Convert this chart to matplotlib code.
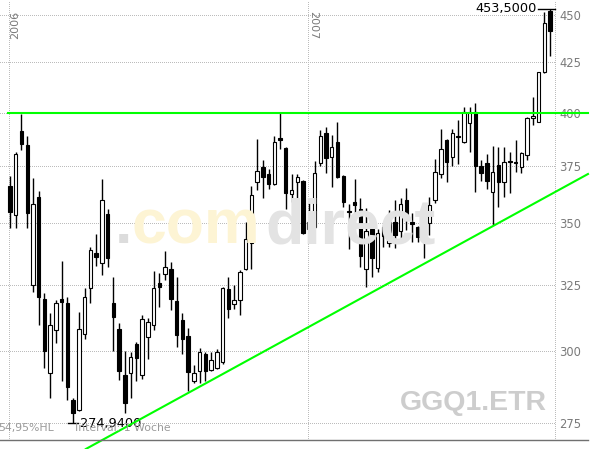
import numpy as np
import matplotlib
matplotlib.use('Agg')
import matplotlib.pyplot as plt
from matplotlib.lines import Line2D
from matplotlib.ticker import NullLocator
import matplotlib.transforms as mtransforms

# weekly candles GGQ1.ETR, Jan 2006 .. Nov 2007
opens = [366.1, 353.5, 391.2, 384.7, 324.9, 361.2, 319.4, 292.1, 307.7, 319.4,
         317.9, 282.8, 279.4, 306.2, 323.7, 337.6, 333.6, 353.9, 317.9, 308.1,
         291.4, 292.1, 302.5, 291.4, 305.1, 309.6, 325.7, 329.2, 331.2, 318.6,
         311.4, 305.5, 289.4, 292.8, 298.9, 293.2, 293.9, 296.1, 323.3, 317.5,
         319.0, 331.2, 341.8, 367.8, 374.6, 371.4, 367.0, 387.9, 383.3, 362.6,
         367.8, 368.3, 347.6, 348.5, 376.4, 390.3, 379.2, 386.1, 370.6, 355.2,
         359.1, 356.0, 331.2, 347.6, 331.6, 348.5, 341.8, 350.5, 346.8, 360.0,
         350.5, 348.5, 344.3, 350.1, 360.0, 371.4, 387.0, 379.2, 388.8, 386.1,
         395.0, 400.3, 375.0, 376.4, 363.4, 375.5, 367.9, 377.3, 376.9, 374.6,
         380.1, 397.5, 395.5, 420.1, 452.2]
highs = [370.6, 381.5, 399.4, 388.8, 369.7, 363.9, 321.8, 314.0, 319.0, 334.4,
         320.2, 283.5, 314.4, 323.7, 340.1, 345.5, 369.2, 356.0, 328.0, 310.3,
         300.0, 299.6, 303.3, 313.3, 312.2, 330.4, 329.6, 338.4, 334.0, 328.0,
         314.0, 308.4, 295.0, 301.1, 299.6, 299.6, 300.7, 324.1, 328.0, 324.9,
         330.8, 350.5, 366.1, 387.5, 377.8, 373.7, 388.8, 400.5, 383.5, 371.4,
         371.4, 368.6, 360.0, 377.3, 391.7, 393.1, 389.3, 395.5, 370.8, 358.2,
         369.2, 360.8, 356.5, 351.4, 347.6, 349.3, 355.6, 360.0, 360.8, 365.2,
         354.4, 348.9, 352.7, 361.2, 378.3, 392.2, 387.3, 392.2, 396.5, 402.7,
         402.7, 404.6, 377.8, 380.6, 384.2, 383.8, 383.8, 381.5, 387.0, 381.3,
         398.0, 407.6, 420.3, 451.6, 453.5]
lows = [348.0, 348.0, 382.4, 348.0, 322.1, 309.6, 293.9, 283.5, 302.9, 289.4,
        282.8, 274.94, 279.0, 304.4, 317.9, 332.4, 328.8, 332.0, 300.0, 289.7,
        278.4, 283.5, 289.4, 290.0, 297.1, 307.7, 316.3, 326.8, 315.2, 301.4,
        298.9, 285.9, 288.6, 288.6, 289.4, 292.8, 293.5, 295.4, 312.2, 315.6,
        313.3, 330.8, 331.2, 364.3, 360.8, 364.8, 366.5, 382.8, 356.0, 359.1,
        357.8, 345.5, 343.4, 348.0, 375.0, 371.9, 365.7, 369.7, 356.9, 339.3,
        354.4, 332.0, 324.1, 328.0, 330.0, 340.1, 340.1, 339.7, 342.2, 347.2,
        342.2, 342.2, 335.6, 345.1, 358.7, 369.7, 367.8, 375.0, 376.0, 385.6,
        381.5, 363.4, 368.3, 364.8, 349.3, 356.9, 361.2, 363.0, 372.3, 371.9,
        377.8, 394.1, 395.3, 419.6, 428.3]
closes = [354.8, 380.6, 385.2, 354.4, 358.2, 320.2, 300.0, 309.6, 317.9, 318.3,
          287.2, 278.4, 308.1, 320.2, 338.9, 336.0, 360.0, 335.6, 312.6, 292.8,
          281.8, 297.8, 297.5, 311.8, 310.7, 323.7, 324.1, 332.0, 319.4, 305.8,
          304.4, 292.5, 292.1, 299.6, 292.8, 296.8, 299.6, 323.7, 315.6, 319.0,
          330.0, 343.4, 362.1, 372.8, 370.1, 367.0, 386.1, 387.0, 363.0, 364.3,
          370.1, 345.9, 350.5, 371.9, 388.8, 378.7, 383.8, 370.1, 359.1, 354.8,
          357.8, 336.4, 346.8, 335.6, 345.9, 344.7, 350.5, 345.1, 358.2, 352.7,
          349.7, 344.3, 349.3, 357.8, 372.3, 382.8, 376.9, 390.3, 388.3, 400.3,
          400.3, 375.0, 371.9, 368.3, 372.3, 367.9, 376.9, 376.9, 376.4, 381.0,
          397.5, 398.5, 420.1, 445.7, 441.4]

price_ticks = [275, 300, 325, 350, 375, 400, 425, 450]
year_labels = ['2006', '2007']
year_pos = [-0.2, 51.85]          # week position of Jan 1st
resistance = 400
trend_x = [13.2, 100.6]
trend_y = [266.5, 371.4]
max_val, max_pos = 453.5, 94
min_val, min_pos = 274.94, 11

W, H = 596, 449
fig = plt.figure(figsize=(W / 100, H / 100), dpi=100)
ax = fig.add_axes([0, 0, 555 / W, 1])
ax.set_yscale('log')
ax.set_ylim(266.5, 458.2)
ax.set_xlim(-1.74, 94.86)
for s in ax.spines.values():
    s.set_visible(False)

dot = (0, (1, 1.5))
grid_c = '#bcbcbc'
ax.set_xticks([])
ax.set_yticks(price_ticks)
ax.set_yticklabels([str(v) for v in price_ticks])
ax.yaxis.set_minor_locator(NullLocator())
ax.yaxis.tick_right()
ax.tick_params(axis='y', length=0, pad=3, labelsize=8.3, labelcolor='#7a7a7a')
ax.grid(axis='y', color=grid_c, linestyle=dot, linewidth=0.72, antialiased=False)
for xp in year_pos:
    ax.axvline(xp, ymin=9 / H, ymax=1, color=grid_c, linestyle=dot, linewidth=0.72,
               antialiased=False)
ax.axvline(ax.get_xlim()[1], ymin=9 / H, ymax=1, color=grid_c, linestyle=dot,
           linewidth=0.72, clip_on=False, antialiased=False)

# year labels
trans = mtransforms.blended_transform_factory(ax.transData, ax.transAxes)
ax.text(year_pos[0] + 1.05, 1 - 11 / H, year_labels[0], rotation=90, ha='center',
        va='top', fontsize=8, color='#7a7a7a', transform=trans)
ax.text(year_pos[1] + 0.9, 1 - 11 / H, year_labels[1], rotation=270, ha='center',
        va='top', fontsize=8, color='#7a7a7a', transform=trans)

# watermarks
wm = dict(fontfamily='Liberation Sans', fontweight='bold', fontsize=45, va='baseline', zorder=0)
fig.text(115 / W, 1 - 243 / H, '.', color='#dcdcdc', **wm)
fig.text(132 / W, 1 - 243 / H, 'com', color='#fdf4d4', **wm)
fig.text(265 / W, 1 - 243 / H, 'direct', color='#e3e3e3', **wm)
fig.text(400 / W, 1 - 410 / H, 'GGQ1.ETR', color='#cdcdcd', fontfamily='Liberation Sans',
         fontweight='bold', fontsize=20.5, va='baseline')

# candles
pos = np.arange(len(opens))
o = np.array(opens); c = np.array(closes)
up = c >= o
ax.vlines(pos, lows, highs, color='black', linewidth=1.0, zorder=2)
ax.bar(pos, np.abs(c - o), bottom=np.minimum(o, c), width=0.6,
       color=np.where(up, 'white', 'black'), edgecolor='black', linewidth=0.8, zorder=2.2)

# high / low markers
ax.plot([max_pos - 2.1, max_pos + 0.86], [max_val, max_val], color='black', lw=1,
        clip_on=False, zorder=3)
ax.text(max_pos - 2.25, max_val, f'{max_val:.4f}'.replace('.', ','), ha='right', va='center',
        fontsize=9.3, color='black')
ax.plot([min_pos - 0.9, min_pos + 0.8], [min_val, min_val], color='black', lw=1, zorder=3)
ax.text(min_pos + 1.2, min_val, f'{min_val:.4f}'.replace('.', ','), ha='left', va='center',
        fontsize=9.3, color='black')

# support / resistance
ax.plot([-0.35, 100.6], [resistance, resistance], color='#00ff00', lw=1.5,
        clip_on=False, zorder=4)
ax.plot(trend_x, trend_y, color='#00ff00', lw=1.5, clip_on=False, zorder=4)

fig.text(-2 / W, 1 - 428 / H, '54,95%HL', fontsize=7.8, color='#9a9a9a', va='center')
fig.text(75 / W, 1 - 428 / H, 'Interval: 1 Woche', fontsize=7.8, color='#9a9a9a', va='center')
fig.add_artist(Line2D([0, 588 / W], [9 / H, 9 / H], transform=fig.transFigure,
                      color='#707070', linewidth=1))

fig.savefig('out.png', dpi=100)
